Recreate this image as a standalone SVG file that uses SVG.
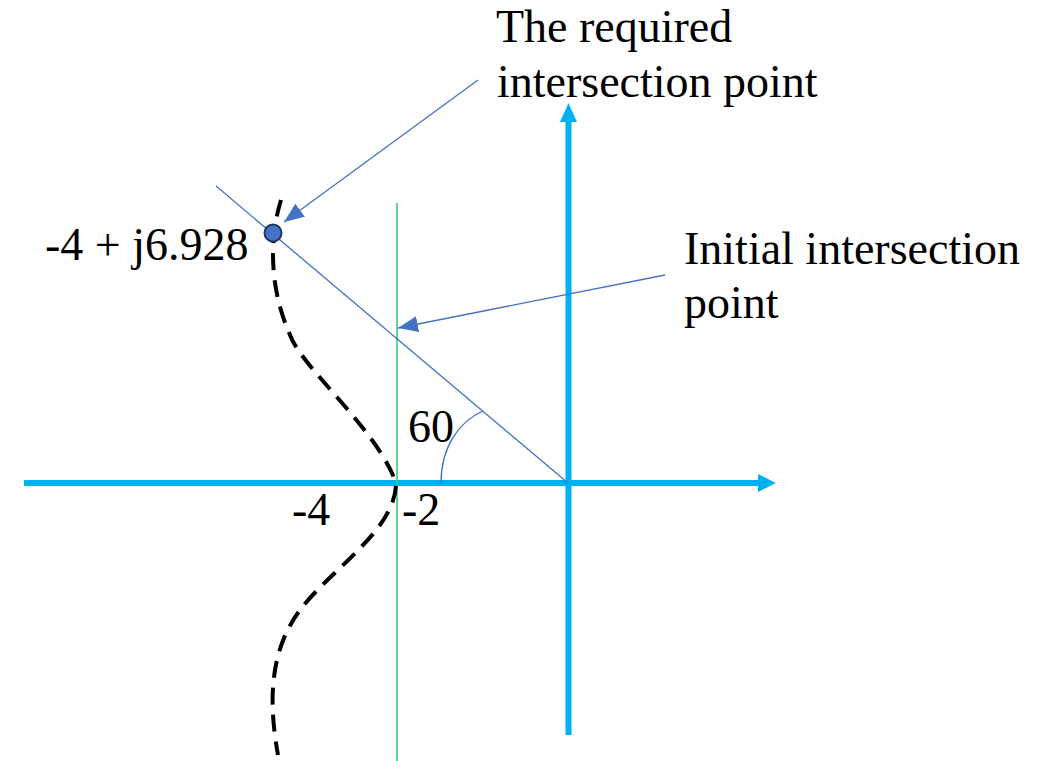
<svg xmlns="http://www.w3.org/2000/svg" width="1038" height="761" viewBox="0 0 1038 761">
<style>
.t{font-family:"Liberation Serif","Times New Roman",serif;font-size:46px;fill:#000}
.axis{stroke:#00B0F0;stroke-width:6;fill:none}
.thin{stroke:#4472C4;stroke-width:1.3;fill:none}
</style>
<defs>
<marker id="ah" markerUnits="userSpaceOnUse" markerWidth="20" markerHeight="16" refX="20" refY="8" orient="auto">
<path d="M0,0 L20,8 L0,16 Z" fill="#4472C4"/>
</marker>
</defs>
<rect width="1038" height="761" fill="#fff"/>
<g id="axes">
<line class="axis" x1="24" y1="483" x2="760" y2="483"/>
<path d="M758,474 L776,483 L758,492 Z" fill="#00B0F0"/>
<line class="axis" x1="568.5" y1="735" x2="568.5" y2="120"/>
<path d="M560,122 L568.5,103 L577,122 Z" fill="#00B0F0"/>
</g>
<g id="vertical-line">
<line x1="397" y1="203" x2="397" y2="761" stroke="#3CC97A" stroke-width="1.6"/>
</g>
<g id="diagonal-line">
<line class="thin" x1="216" y1="186" x2="568" y2="483"/>
<path class="thin" d="M441,483 C441,446 460,421 483,411"/>
</g>
<g id="root-locus">
<path d="M281,200 C270,235 268,285 290,335 C302,368 378,430 396,483 C396,530 330,570 300,610 C270,650 268,700 278,755" fill="none" stroke="#000" stroke-width="4" stroke-dasharray="17,10"/>
</g>
<g id="point">
<circle cx="273" cy="233" r="8.5" fill="#4472C4" stroke="#1F3864" stroke-width="2"/>
</g>
<g id="connectors">
<line class="thin" x1="478" y1="80" x2="284" y2="222" marker-end="url(#ah)"/>
<line class="thin" x1="665" y1="275" x2="398" y2="328" marker-end="url(#ah)"/>
</g>
<g id="labels">
<text class="t" x="496" y="42">The required</text>
<text class="t" x="497" y="97">intersection point</text>
<text class="t" x="684" y="264">Initial intersection</text>
<text class="t" x="684" y="318">point</text>
<text class="t" x="45" y="260">-4 + j6.928</text>
<text class="t" x="292" y="525">-4</text>
<text class="t" x="402" y="525">-2</text>
<text class="t" x="408" y="442">60</text>
</g>
</svg>
